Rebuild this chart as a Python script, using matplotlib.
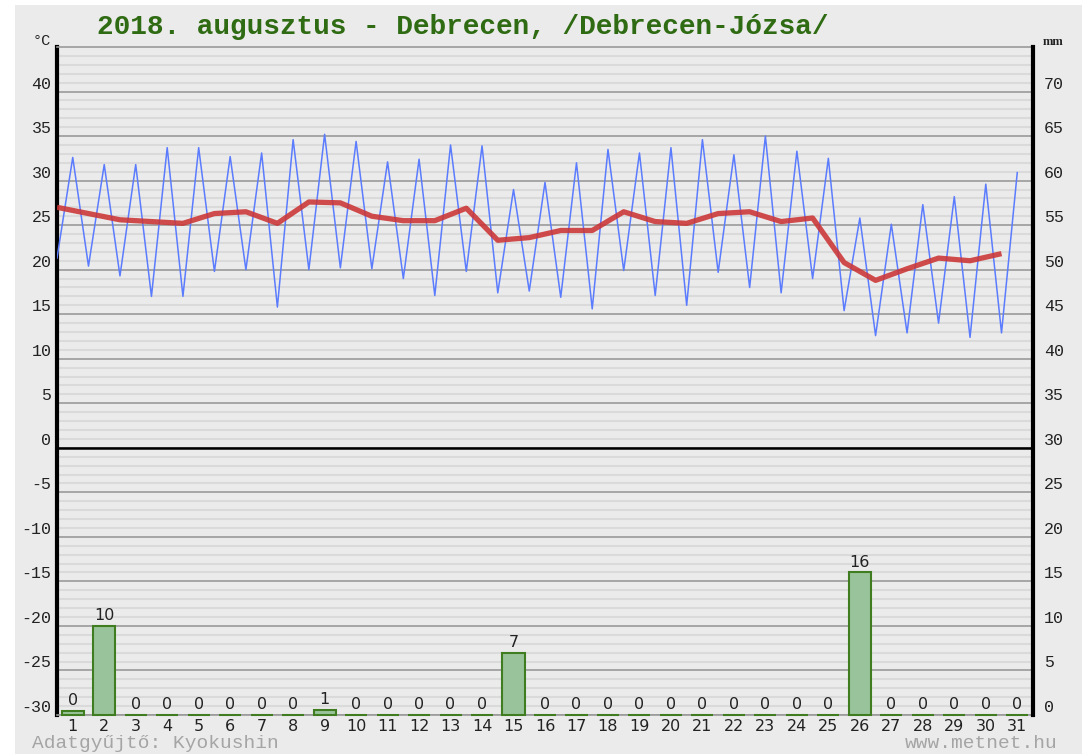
import matplotlib.pyplot as plt
from matplotlib.patches import Rectangle
import numpy as np

days = list(range(1, 32))
t_min = [21.3, 20.4, 19.3, 17.0, 17.0, 19.8, 20.0, 15.8, 20.0, 20.2,
         20.1, 19.0, 17.1, 19.8, 17.4, 17.6, 16.9, 15.6, 19.9, 17.1,
         16.0, 19.7, 18.0, 17.4, 19.0, 15.4, 12.6, 12.9, 14.0, 12.4, 12.9]
t_max = [32.6, 31.8, 31.8, 33.7, 33.7, 32.7, 33.1, 34.6, 35.2, 34.4,
         32.1, 32.4, 34.0, 33.9, 29.0, 29.8, 32.0, 33.5, 33.1, 33.7,
         34.6, 32.9, 35.0, 33.3, 32.5, 25.8, 25.1, 27.3, 28.2, 29.6, 30.9]
t_mean = [27.0, 26.3, 25.6, 25.4, 25.2, 26.3, 26.5, 25.2, 27.6, 27.5,
          26.0, 25.5, 25.5, 26.9, 23.3, 23.6, 24.4, 24.4, 26.5, 25.4,
          25.2, 26.3, 26.5, 25.4, 25.8, 20.8, 18.8, 20.1, 21.3, 21.0, 21.8]
precip = [0.45, 10, 0, 0, 0, 0, 0, 0, 0.6, 0,
          0, 0, 0, 0, 7, 0, 0, 0, 0, 0,
          0, 0, 0, 0, 0, 16, 0, 0, 0, 0, 0]

bg = '#ebebeb'
W, H = 1082, 754
fig = plt.figure(figsize=(W / 100, H / 100), dpi=100)
fig.patch.set_facecolor('white')
fig.patches.append(Rectangle((15 / W, 0), 1, (H - 5) / H, transform=fig.transFigure,
                             facecolor=bg, edgecolor='none', zorder=-10))

ax = fig.add_axes([57 / W, (H - 715) / H, (1033 - 57) / W, (715 - 47) / H])
ax.set_facecolor(bg)
ax.set_xlim(0.5, 31.5)
ax.set_ylim(-30, 45)

# grid
ax.set_yticks(np.arange(-30, 41, 5))
ax.set_yticks(np.arange(-30, 45, 1), minor=True)
ax.grid(which='minor', axis='y', color='#dadada', lw=1.5)
ax.grid(which='major', axis='y', color='#9a9a9a', lw=1.2)
ax.set_axisbelow(True)
ax.axhline(0, color='black', lw=1.8, zorder=1)

# temperature lines
x_blue, y_blue = [], []
for d, lo, hi in zip(days, t_min, t_max):
    x_blue += [d - 0.5, d]
    y_blue += [lo, hi]
ax.plot(x_blue, y_blue, color='#5b7cff', lw=1.1, zorder=3)
ax.plot(np.array(days) - 0.5, t_mean, color='#cc3535', lw=3.8, alpha=0.88,
        solid_capstyle='butt', zorder=4)

mono = 'Liberation Mono'
ax.set_xticks(days)
ax.set_xticklabels([str(d) for d in days], fontsize=11.5, family='DejaVu Sans', color='#222222')
ax.tick_params(axis='x', length=0, pad=3)
ax.tick_params(axis='y', which='both', length=0, pad=4)
ax.set_yticklabels([str(v) for v in range(-30, 41, 5)], fontsize=12, family=mono, color='#222222')
for lab in ax.get_yticklabels():
    lab.set_va('bottom')

for s in ['top', 'bottom']:
    ax.spines[s].set_color('#9a9a9a')
    ax.spines[s].set_linewidth(1.2)
ax.spines['left'].set_linewidth(3)
ax.spines['right'].set_visible(False)

# precipitation on the mm axis
ax2 = ax.twinx()
ax2.set_ylim(0, 75)
ax2.set_yticks(np.arange(0, 71, 5))
ax2.set_yticklabels([str(v) for v in range(0, 71, 5)], fontsize=12, family=mono, color='#222222')
for lab in ax2.get_yticklabels():
    lab.set_va('bottom')
ax2.tick_params(axis='y', length=0, pad=8)
bars = ax2.bar(days, precip, width=0.7, color='#99c39b', edgecolor='#3f7d20', lw=1.5,
               clip_on=False, zorder=3)
ax2.bar_label(bars, labels=[f"{v:.0f}" for v in precip], padding=2,
              fontsize=11.5, family='DejaVu Sans', color='#222222')
ax2.spines['right'].set_linewidth(3)
for s in ['top', 'bottom', 'left']:
    ax2.spines[s].set_visible(False)

fig.text(463 / W, 1 - 27 / H, '2018. augusztus - Debrecen, /Debrecen-Józsa/',
         ha='center', va='center', fontsize=20, family=mono, fontweight='bold', color='#2e6b12')
fig.text(42 / W, 1 - 41 / H, '°C', ha='center', va='center', fontsize=11, family=mono,
         color='#222222')
fig.text(1053 / W, 1 - 42 / H, 'mm', ha='center', va='center', fontsize=9, family='Liberation Serif',
         fontweight='bold', color='#222222')
fig.text(32 / W, 1 - 743 / H, 'Adatgyűjtő: Kyokushin', ha='left', va='center', fontsize=14,
         family=mono, color='#a5a5a5')
fig.text(1058 / W, 1 - 743 / H, 'www.metnet.hu', ha='right', va='center', fontsize=14,
         family=mono, color='#a5a5a5')

fig.savefig('out.png', dpi=100, facecolor=fig.get_facecolor())
